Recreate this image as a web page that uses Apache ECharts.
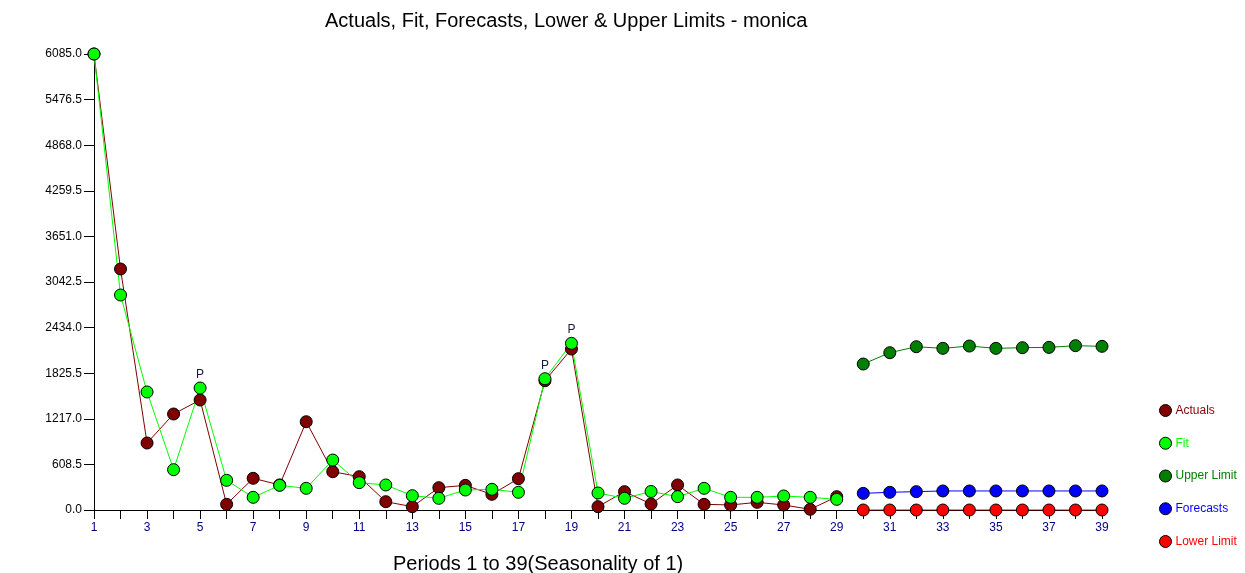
<!DOCTYPE html>
<html>
<head>
<meta charset="utf-8">
<script src="https://cdn.jsdelivr.net/npm/echarts@6/dist/echarts.min.js"></script>
<style>html,body{margin:0;padding:0;background:#fff;}#c{width:1245px;height:573px;}</style>
</head>
<body>
<div id="c"></div>
<script>
var periods = [];
for (var i = 1; i <= 39; i++) periods.push(String(i));

var actuals = [6085, 3216, 894, 1281, 1468, 76, 423, 335, 1178, 511, 445, 111, 44, 298, 329, 209, 418, 1725, 2148, 44, 245, 80, 334, 76, 67, 102, 67, 9, 178];
var fit = [6085, 2869, 1575, 538, 1628, 396, 169, 329, 289, 667, 365, 334, 191, 156, 267, 276, 236, 1752, 2224, 227, 156, 247, 178, 289, 169, 169, 187, 169, 142];
var upperLimit = [1948, 2099, 2179, 2157, 2188, 2157, 2166, 2170, 2193, 2184];
var forecasts = [222, 236, 245, 254, 254, 254, 254, 254, 254, 254];
var lowerLimit = [0, 0, 0, 0, 0, 0, 0, 0, 0, 0];
var peakPeriods = [5, 18, 19];
var yTicks = [0, 608.5, 1217, 1825.5, 2434, 3042.5, 3651, 4259.5, 4868, 5476.5, 6085];

var nHist = actuals.length;
function pad(arr, offset) {
  var out = [];
  for (var i = 0; i < periods.length; i++) {
    var j = i - offset;
    out.push(j >= 0 && j < arr.length ? arr[j] : null);
  }
  return out;
}
var fitData = pad(fit, 0).map(function (v, i) {
  if (v !== null && peakPeriods.indexOf(i + 1) >= 0) {
    return { value: v, label: { show: true, formatter: 'P', position: 'top', distance: 1, color: '#1a1a3a', fontSize: 12, fontFamily: 'Liberation Sans, Arial' } };
  }
  return v;
});

var chart = echarts.init(document.getElementById('c'));
function mk(name, color, data) {
  return {
    name: name, type: 'line', data: data, symbol: 'circle', symbolSize: 12,
    connectNulls: false, animation: false,
    lineStyle: { color: color, width: 1 },
    itemStyle: { color: color, borderColor: '#000', borderWidth: 1 },
    emphasis: { disabled: true }
  };
}
var legendColors = { 'Actuals': '#800000', 'Fit': '#00ff00', 'Upper Limit': '#008000', 'Forecasts': '#0000ff', 'Lower Limit': '#ff0000' };
chart.setOption({
  animation: false,
  backgroundColor: '#fff',
  title: {
    text: 'Actuals, Fit, Forecasts, Lower & Upper Limits - monica',
    left: 320, top: 6,
    textStyle: { fontSize: 20, fontWeight: 'normal', color: '#000', fontFamily: 'Liberation Sans, Arial' }
  },
  legend: {
    orient: 'vertical', left: 1154, top: 399, itemWidth: 12, itemHeight: 12, itemGap: 19.75,
    icon: 'circle',
    itemStyle: { borderColor: '#000', borderWidth: 1 },
    data: Object.keys(legendColors).map(function (k) {
      return { name: k, textStyle: { color: legendColors[k], fontSize: 12, fontFamily: 'Liberation Sans, Arial' } };
    }),
    textStyle: { padding: [0, 0, 0, -1] }
  },
  grid: { left: 94, right: 143, top: 54, bottom: 63, containLabel: false },
  xAxis: {
    type: 'category', data: periods, boundaryGap: false,
    axisLine: { lineStyle: { color: '#000', width: 1 } },
    axisTick: { show: true, interval: 0, length: 9, lineStyle: { color: '#000' } },
    axisLabel: { interval: 1, color: '#000080', fontSize: 12, margin: 12, fontFamily: 'Liberation Sans, Arial' },
    splitLine: { show: false }
  },
  yAxis: {
    type: 'value', min: 0, max: 6085, interval: 608.5,
    axisLine: { show: true, lineStyle: { color: '#000', width: 1 } },
    axisTick: { show: true, length: 10, lineStyle: { color: '#000' } },
    axisLabel: { color: '#000', fontSize: 12, margin: 12, fontFamily: 'Liberation Sans, Arial',
      formatter: function (v) { return v.toFixed(1); } },
    splitLine: { show: false }
  },
  graphic: [{
    type: 'text', left: 393, top: 554,
    style: { text: 'Periods 1 to 39(Seasonality of 1)', fontSize: 20, fill: '#000', fontFamily: 'Liberation Sans, Arial' }
  }],
  series: [
    mk('Actuals', '#800000', pad(actuals, 0)),
    mk('Fit', '#00ff00', fitData),
    mk('Upper Limit', '#008000', pad(upperLimit, nHist)),
    mk('Forecasts', '#0000ff', pad(forecasts, nHist)),
    mk('Lower Limit', '#ff0000', pad(lowerLimit, nHist))
  ]
});
</script>
</body>
</html>
